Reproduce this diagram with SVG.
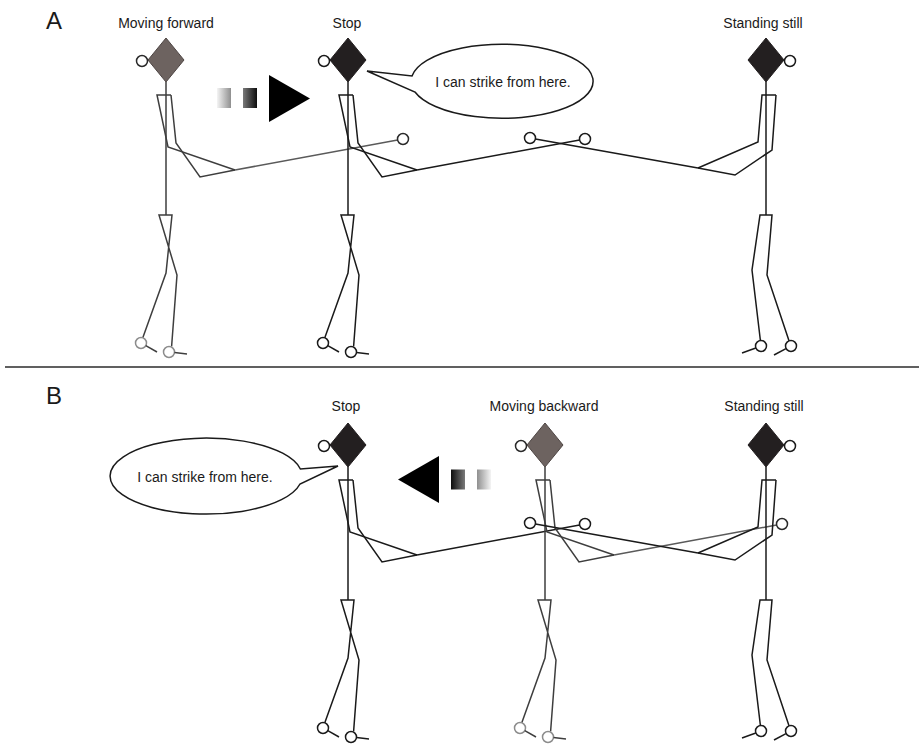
<svg xmlns="http://www.w3.org/2000/svg" width="924" height="747" viewBox="0 0 924 747">
  <defs>
    <style>
      text { font-family: "Liberation Sans", Arial, sans-serif; fill: #1a1a1a; }
      .panel { font-size: 24px; }
      .label { font-size: 14px; text-anchor: middle; }
      .speech { font-size: 14px; text-anchor: middle; }
      .bubble { fill: #ffffff; stroke: #1a1a1a; stroke-width: 1.5; }
      .rule { stroke: #2b2b2b; stroke-width: 1.5; }
      .limb { fill: none; stroke-width: 1.5; stroke-linejoin: miter; }
      .joint { fill: #ffffff; stroke-width: 1.5; }
      /* figure that holds its position */
      .solid .limb, .solid .joint { stroke: #1a1a1a; }
      .solid .head { fill: #231f20; stroke: #231f20; stroke-width: 1; }
      /* figure caught in motion */
      .moving .limb { stroke: #3e3e3e; }
      .moving .sword { stroke: #5a5a5a; }
      .moving .joint { stroke: #2a2a2a; }
      .moving .foot { stroke: #8c8c8c; }
      .moving .head { fill: #6d6360; stroke: #4e4644; stroke-width: 1; }
    </style>
    <linearGradient id="fadeLight" x1="0" y1="0" x2="1" y2="0">
      <stop offset="0" stop-color="#f4f4f4"/>
      <stop offset="1" stop-color="#8f8f8f"/>
    </linearGradient>
    <linearGradient id="fadeDark" x1="0" y1="0" x2="1" y2="0">
      <stop offset="0" stop-color="#7a7a7a"/>
      <stop offset="1" stop-color="#0d0d0d"/>
    </linearGradient>
    <linearGradient id="fadeLightRev" x1="1" y1="0" x2="0" y2="0">
      <stop offset="0" stop-color="#f4f4f4"/>
      <stop offset="1" stop-color="#8f8f8f"/>
    </linearGradient>
    <linearGradient id="fadeDarkRev" x1="1" y1="0" x2="0" y2="0">
      <stop offset="0" stop-color="#7a7a7a"/>
      <stop offset="1" stop-color="#0d0d0d"/>
    </linearGradient>
  </defs>

  <rect width="924" height="747" fill="#ffffff"/>

  <!-- panel letters and divider -->
  <text class="panel" x="46" y="29">A</text>
  <text class="panel" x="46" y="404">B</text>
  <line class="rule" x1="5" y1="367" x2="919" y2="367"/>

  <!-- ===== Panel A ===== -->
  <g id="labels-a">
    <text class="label" x="166" y="28">Moving forward</text>
    <text class="label" x="347" y="28">Stop</text>
    <text class="label" x="763" y="28">Standing still</text>
  </g>

  <!-- striding fencer, moving forward (local spine at x=0) -->
  <g id="a-moving" class="moving" transform="translate(166,0)">
    <polyline class="limb" points="0,82 0,215"/>
    <polyline class="limb" points="5,95 -9,95 2,147 69,170"/>
    <polyline class="limb" points="5,95 10,143 34,177 69,170"/>
    <line class="limb sword" x1="69" y1="170" x2="231.6" y2="140"/>
    <circle class="joint sword" cx="237" cy="139" r="5.5"/>
    <polyline class="limb" points="5.6,346.5 11,275 -7,215 6,215 0,273 -23.2,337.8"/>
    <circle class="joint foot" cx="3" cy="352" r="5.5"/>
    <circle class="joint foot" cx="-25" cy="343" r="5.5"/>
    <line class="limb" x1="8.5" y1="352.6" x2="21" y2="354"/>
    <line class="limb" x1="-20.2" y1="345.7" x2="-9" y2="352"/>
    <polygon class="head" points="0,38 18,60 0,82 -18,60"/>
    <circle class="joint" cx="-24" cy="61" r="5.5"/>
  </g>

  <g id="a-arrow">
    <rect x="217" y="88" width="14" height="20" fill="url(#fadeLight)"/>
    <rect x="243" y="88" width="14" height="20" fill="url(#fadeDark)"/>
    <polygon points="269,75 310,98.5 269,122" fill="#000000"/>
  </g>

  <g id="a-stop" class="solid" transform="translate(348,0)">
    <polyline class="limb" points="0,82 0,215"/>
    <polyline class="limb" points="5,95 -9,95 2,147 69,170"/>
    <polyline class="limb" points="5,95 10,143 34,177 69,170"/>
    <line class="limb" x1="69" y1="170" x2="231.6" y2="140"/>
    <circle class="joint" cx="237" cy="139" r="5.5"/>
    <polyline class="limb" points="5.6,346.5 11,275 -7,215 6,215 0,273 -23.2,337.8"/>
    <circle class="joint" cx="3" cy="352" r="5.5"/>
    <circle class="joint" cx="-25" cy="343" r="5.5"/>
    <line class="limb" x1="8.5" y1="352.6" x2="21" y2="354"/>
    <line class="limb" x1="-20.2" y1="345.7" x2="-9" y2="352"/>
    <polygon class="head" points="0,38 18,60 0,82 -18,60"/>
    <circle class="joint" cx="-24" cy="61" r="5.5"/>
  </g>

  <g id="a-speech">
    <path class="bubble" d="M412,76 A91,37 0 1 1 415,92 L367,71 Z"/>
    <text class="speech" x="503" y="87">I can strike from here.</text>
  </g>

  <!-- opponent facing left, feet parallel -->
  <g id="a-still" class="solid">
    <polyline class="limb" points="766,82 766,215"/>
    <polyline class="limb" points="776,95 762,95 758,142 698,168"/>
    <polyline class="limb" points="776,95 772,150 735,175 698,168"/>
    <line class="limb" x1="698" y1="168" x2="535.4" y2="139"/>
    <circle class="joint" cx="530" cy="138" r="5.5"/>
    <polyline class="limb" points="760.4,340.5 752,270 760,215 772,215 767,275 789,340.8"/>
    <circle class="joint" cx="761" cy="346" r="5.5"/>
    <circle class="joint" cx="791" cy="346" r="5.5"/>
    <line class="limb" x1="755.8" y1="348" x2="742" y2="353"/>
    <line class="limb" x1="786" y1="348.6" x2="774" y2="355"/>
    <polygon class="head" points="766,38 784,60 766,82 748,60"/>
    <circle class="joint" cx="790" cy="61" r="5.5"/>
  </g>

  <!-- ===== Panel B ===== -->
  <g id="labels-b">
    <text class="label" x="346" y="411">Stop</text>
    <text class="label" x="544" y="411">Moving backward</text>
    <text class="label" x="764" y="411">Standing still</text>
  </g>

  <g id="b-speech">
    <path class="bubble" d="M300,484 A96,38 0 1 1 300.4,469 L338,466 Z"/>
    <text class="speech" x="205" y="482">I can strike from here.</text>
  </g>

  <g id="b-stop" class="solid" transform="translate(348,385)">
    <polyline class="limb" points="0,82 0,215"/>
    <polyline class="limb" points="5,95 -9,95 2,147 69,170"/>
    <polyline class="limb" points="5,95 10,143 34,177 69,170"/>
    <line class="limb" x1="69" y1="170" x2="231.6" y2="140"/>
    <circle class="joint" cx="237" cy="139" r="5.5"/>
    <polyline class="limb" points="5.6,346.5 11,275 -7,215 6,215 0,273 -23.2,337.8"/>
    <circle class="joint" cx="3" cy="352" r="5.5"/>
    <circle class="joint" cx="-25" cy="343" r="5.5"/>
    <line class="limb" x1="8.5" y1="352.6" x2="21" y2="354"/>
    <line class="limb" x1="-20.2" y1="345.7" x2="-9" y2="352"/>
    <polygon class="head" points="0,38 18,60 0,82 -18,60"/>
    <circle class="joint" cx="-24" cy="61" r="5.5"/>
  </g>

  <g id="b-arrow">
    <polygon points="398,479.5 439,456 439,503" fill="#000000"/>
    <rect x="451" y="469.5" width="14" height="20" fill="url(#fadeDarkRev)"/>
    <rect x="477" y="469.5" width="14" height="20" fill="url(#fadeLightRev)"/>
  </g>

  <g id="b-moving" class="moving" transform="translate(545,385)">
    <polyline class="limb" points="0,82 0,215"/>
    <polyline class="limb" points="5,95 -9,95 2,147 69,170"/>
    <polyline class="limb" points="5,95 10,143 34,177 69,170"/>
    <line class="limb sword" x1="69" y1="170" x2="231.6" y2="140"/>
    <circle class="joint sword" cx="237" cy="139" r="5.5"/>
    <polyline class="limb" points="5.6,346.5 11,275 -7,215 6,215 0,273 -23.2,337.8"/>
    <circle class="joint foot" cx="3" cy="352" r="5.5"/>
    <circle class="joint foot" cx="-25" cy="343" r="5.5"/>
    <line class="limb" x1="8.5" y1="352.6" x2="21" y2="354"/>
    <line class="limb" x1="-20.2" y1="345.7" x2="-9" y2="352"/>
    <polygon class="head" points="0,38 18,60 0,82 -18,60"/>
    <circle class="joint" cx="-24" cy="61" r="5.5"/>
  </g>

  <g id="b-still" class="solid" transform="translate(0,385)">
    <polyline class="limb" points="766,82 766,215"/>
    <polyline class="limb" points="776,95 762,95 758,142 698,168"/>
    <polyline class="limb" points="776,95 772,150 735,175 698,168"/>
    <line class="limb" x1="698" y1="168" x2="535.4" y2="139"/>
    <circle class="joint" cx="530" cy="138" r="5.5"/>
    <polyline class="limb" points="760.4,340.5 752,270 760,215 772,215 767,275 789,340.8"/>
    <circle class="joint" cx="761" cy="346" r="5.5"/>
    <circle class="joint" cx="791" cy="346" r="5.5"/>
    <line class="limb" x1="755.8" y1="348" x2="742" y2="353"/>
    <line class="limb" x1="786" y1="348.6" x2="774" y2="355"/>
    <polygon class="head" points="766,38 784,60 766,82 748,60"/>
    <circle class="joint" cx="790" cy="61" r="5.5"/>
  </g>
</svg>
